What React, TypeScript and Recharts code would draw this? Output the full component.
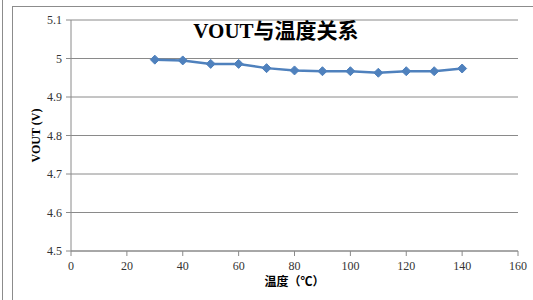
import React from 'react';
import { LineChart, Line, XAxis, YAxis, CartesianGrid, Label } from 'recharts';

const temperatures = [30, 40, 50, 60, 70, 80, 90, 100, 110, 120, 130, 140];
const vout = [4.997, 4.995, 4.986, 4.986, 4.975, 4.969, 4.967, 4.967, 4.963, 4.967, 4.967, 4.974];
const xTicks = [0, 20, 40, 60, 80, 100, 120, 140, 160];
const yTicks = [4.5, 4.6, 4.7, 4.8, 4.9, 5.0, 5.1];
const title = 'VOUT与温度关系';
const xLabel = '温度（℃）';
const yLabel = 'VOUT (V)';

const data = temperatures.map((t, i) => ({ t, v: vout[i] }));

const SERIF = 'Liberation Serif, Noto Sans CJK SC, serif';
const LINE = '#4F81BD';

const Diamond = (props: any) => {
  const { cx, cy } = props;
  if (cx == null || cy == null) return null;
  const r = 4.5;
  return (
    <polygon
      points={`${cx},${cy - r} ${cx + r},${cy} ${cx},${cy + r} ${cx - r},${cy}`}
      fill={LINE}
      stroke={LINE}
      strokeWidth={1}
    />
  );
};

const fmtY = (v: number) => (Math.abs(v - 5) < 1e-9 ? '5' : v.toFixed(1));

const XTick = (props: any) => {
  const { x, y, payload } = props;
  return (
    <text x={x} y={y + 12} textAnchor="middle" fontFamily={SERIF} fontSize={12} fill="#333">
      {payload.value}
    </text>
  );
};

const YTick = (props: any) => {
  const { x, y, payload } = props;
  return (
    <text x={x - 2} y={y + 4} textAnchor="end" fontFamily={SERIF} fontSize={12} fill="#333">
      {fmtY(payload.value)}
    </text>
  );
};

export default function App() {
  return (
    <div style={{ position: 'absolute', left: 0, top: 0, width: 533, height: 300, background: '#fff', overflow: 'hidden', fontFamily: SERIF }}>
      <div style={{ position: 'absolute', left: 2, top: 0, width: 1, height: 300, background: '#8c8c8c' }} />
      <div style={{ position: 'absolute', left: 12, top: 6, width: 540, height: 320, border: '1px solid #8c8c8c', boxSizing: 'border-box' }} />
      <div style={{ position: 'absolute', left: 0, top: 0 }}>
        <LineChart width={533} height={300} data={data} margin={{ top: 20, right: 15, bottom: 0, left: 23 }}>
          <CartesianGrid horizontal={true} vertical={false} stroke="#8a8a8a" strokeWidth={1} />
          <XAxis
            dataKey="t"
            type="number"
            domain={[0, 160]}
            ticks={xTicks}
            interval={0}
            height={49}
            stroke="#8a8a8a"
            tickSize={5}
            tick={<XTick />}
          >
            <Label
              content={(p: any) => {
                const vb = p.viewBox;
                return (
                  <text x={vb.x + vb.width / 2} y={vb.y + 35} textAnchor="middle" fontFamily={SERIF} fontSize={12} fontWeight="bold" fill="#000">
                    {xLabel}
                  </text>
                );
              }}
            />
          </XAxis>
          <YAxis
            type="number"
            domain={[4.5, 5.1]}
            ticks={yTicks}
            interval={0}
            width={48}
            stroke="#8a8a8a"
            tickSize={5}
            tick={<YTick />}
          >
            <Label
              content={(p: any) => {
                const vb = p.viewBox;
                const cx = 36;
                const cy = vb.y + vb.height / 2;
                return (
                  <text x={cx} y={cy} transform={`rotate(-90 ${cx} ${cy})`} textAnchor="middle" dominantBaseline="central" fontFamily={SERIF} fontSize={12} fontWeight="bold" fill="#000">
                    {yLabel}
                  </text>
                );
              }}
            />
          </YAxis>
          <Line
            dataKey="v"
            stroke={LINE}
            strokeWidth={2.5}
            dot={<Diamond />}
            activeDot={false}
            isAnimationActive={false}
          />
        </LineChart>
      </div>
      <div
        style={{
          position: 'absolute',
          left: 12,
          width: 528,
          top: 18,
          textAlign: 'center',
          fontFamily: SERIF,
          fontWeight: 'bold',
          fontSize: 21,
          color: '#000',
          lineHeight: '26px',
        }}
      >
        {title}
      </div>
    </div>
  );
}
